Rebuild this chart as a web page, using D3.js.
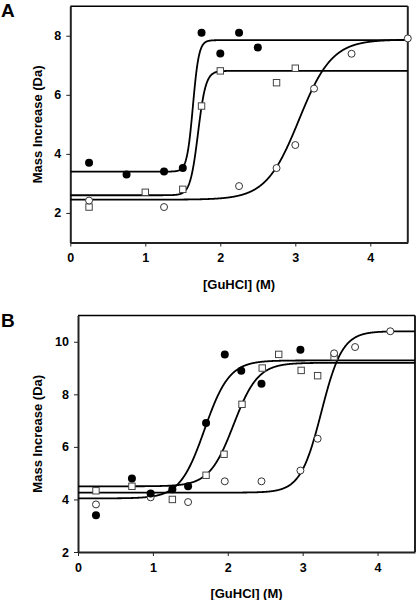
<!DOCTYPE html>
<html><head><meta charset="utf-8">
<script src="https://cdn.jsdelivr.net/npm/d3@7"></script>
<style>body{margin:0;background:#fff}svg{display:block}</style>
</head><body><svg id="c" width="416" height="600"></svg>
<script>
// ---- Panel A data ----
const aFilledX = [0.25, 0.75, 1.25, 1.5, 1.75, 2.0, 2.25, 2.5];
const aFilledY = [3.7, 3.3, 3.4, 3.52, 8.1, 7.4, 8.1, 7.6];
const aSquareX = [0.25, 1.0, 1.5, 1.75, 2.0, 2.75, 3.0];
const aSquareY = [2.2, 2.7, 2.8, 5.62, 6.81, 6.41, 6.9];
const aOpenX = [0.25, 1.25, 2.25, 2.75, 3.0, 3.25, 3.75, 4.5];
const aOpenY = [2.42, 2.2, 2.91, 3.52, 4.3, 6.21, 7.39, 7.91];
// fitted sigmoid parameters [bottom, top, midpoint, slope]
const aFilledFit = [3.4, 7.85, 1.635, 0.04];
const aSquareFit = [2.6, 6.81, 1.703, 0.052];
const aOpenFit = [2.45, 7.87, 3.05, 0.22];
const aYTicks = [2, 4, 6, 8];

// ---- Panel B data ----
const bFilledX = [0.24, 0.72, 0.97, 1.26, 1.47, 1.71, 1.96, 2.18, 2.45, 2.97];
const bFilledY = [3.4, 4.8, 4.23, 4.39, 4.5, 6.91, 9.52, 8.9, 8.4, 9.7];
const bSquareX = [0.24, 0.72, 1.26, 1.71, 1.95, 2.19, 2.46, 2.68, 2.98, 3.2, 3.42];
const bSquareY = [4.33, 4.5, 4.0, 4.92, 5.72, 7.62, 9.0, 9.52, 8.91, 8.71, 9.43];
const bOpenX = [0.24, 0.97, 1.47, 1.96, 2.45, 2.97, 3.2, 3.42, 3.7, 4.17];
const bOpenY = [3.81, 4.08, 3.9, 4.69, 4.69, 5.1, 6.31, 9.56, 9.8, 10.4];
const bFilledFit = [4.04, 9.29, 1.69, 0.165];
const bSquareFit = [4.5, 9.2, 2.078, 0.162];
const bOpenFit = [4.26, 10.4, 3.25, 0.14];
const bYTicks = [2, 4, 6, 8, 10];

const xTicks = [0, 1, 2, 3, 4];
const xLabel = "[GuHCl] (M)";
const yLabel = "Mass Increase (Da)";

const FONT = "Arial, 'Liberation Sans', sans-serif";
const svg = d3.select("#c");

function sigmoid(p, x) {
  return p[0] + (p[1] - p[0]) / (1 + Math.exp((p[2] - x) / p[3]));
}

function panel(cfg) {
  const x = d3.scaleLinear().domain([0, 4.5]).range([cfg.left, cfg.right]);
  const y = d3.scaleLinear().domain(cfg.yDomain).range([cfg.bottom, cfg.top]);
  const g = svg.append("g");
  const clipId = "clip" + cfg.name;
  svg.append("clipPath").attr("id", clipId).append("rect")
    .attr("x", cfg.left).attr("y", cfg.top)
    .attr("width", cfg.right - cfg.left).attr("height", cfg.bottom - cfg.top);

  // frame
  g.append("line").attr("x1", cfg.left).attr("x2", cfg.right).attr("y1", cfg.top).attr("y2", cfg.top)
    .attr("stroke", "#000").attr("stroke-width", 1.5);
  g.append("line").attr("x1", cfg.right).attr("x2", cfg.right).attr("y1", cfg.top).attr("y2", cfg.bottom)
    .attr("stroke", "#222").attr("stroke-width", 2);

  // axes
  const xa = g.append("g").attr("transform", `translate(0,${cfg.bottom})`)
    .call(d3.axisBottom(x).tickValues(xTicks).tickSize(4).tickPadding(7).tickFormat(d3.format("d")).tickSizeOuter(0));
  const ya = g.append("g").attr("transform", `translate(${cfg.left},0)`)
    .call(d3.axisLeft(y).tickValues(cfg.yTicks).tickSize(4).tickPadding(5).tickFormat(d3.format("d")).tickSizeOuter(0));
  [xa, ya].forEach(a => {
    a.select(".domain").attr("stroke", "#222").attr("stroke-width", 2);
    a.selectAll(".tick line").attr("stroke", "#222").attr("stroke-width", 1);
    a.selectAll("text").attr("font-family", FONT).attr("font-weight", "bold")
      .attr("font-size", 12.5).attr("fill", "#000");
  });

  // labels
  g.append("text").attr("x", (cfg.left + cfg.right) / 2).attr("y", cfg.xLabelY)
    .attr("text-anchor", "middle").attr("font-family", FONT).attr("font-weight", "bold")
    .attr("font-size", 13).text(xLabel);
  g.append("text").attr("transform", `translate(${cfg.yLabelX},${(cfg.top + cfg.bottom) / 2}) rotate(-90)`)
    .attr("text-anchor", "middle").attr("font-family", FONT).attr("font-weight", "bold")
    .attr("font-size", 13).text(yLabel);
  g.append("text").attr("x", cfg.letterX).attr("y", cfg.letterY)
    .attr("font-family", FONT).attr("font-weight", "bold").attr("font-size", 19).text(cfg.name);

  // curves
  const xs = d3.range(0, 4.5001, 0.005);
  const line = d3.line().x(d => x(d[0])).y(d => y(d[1]));
  const cg = g.append("g").attr("clip-path", `url(#${clipId})`);
  cfg.fits.forEach(p => {
    cg.append("path").datum(xs.map(v => [v, sigmoid(p, v)]))
      .attr("d", line).attr("fill", "none").attr("stroke", "#000").attr("stroke-width", 1.8);
  });

  // points
  const pg = g.append("g");
  pg.selectAll(".sq").data(cfg.sqX.map((v, i) => [v, cfg.sqY[i]])).join("rect")
    .attr("x", d => x(d[0]) - 3.2).attr("y", d => y(d[1]) - 3.2)
    .attr("width", 6.4).attr("height", 6.4)
    .attr("fill", "#fff").attr("stroke", "#444").attr("stroke-width", 1);
  pg.selectAll(".op").data(cfg.opX.map((v, i) => [v, cfg.opY[i]])).join("circle")
    .attr("cx", d => x(d[0])).attr("cy", d => y(d[1])).attr("r", 3.5)
    .attr("fill", "#fff").attr("stroke", "#333").attr("stroke-width", 1);
  pg.selectAll(".fc").data(cfg.fX.map((v, i) => [v, cfg.fY[i]])).join("circle")
    .attr("cx", d => x(d[0])).attr("cy", d => y(d[1])).attr("r", 4)
    .attr("fill", "#000");
}

panel({
  name: "A", left: 70.3, right: 407.8, top: 6.2, bottom: 242.5, yDomain: [1, 9], yTicks: aYTicks,
  xLabelY: 288.5, yLabelX: 42, letterX: 1, letterY: 17,
  fits: [aFilledFit, aSquareFit, aOpenFit],
  fX: aFilledX, fY: aFilledY, sqX: aSquareX, sqY: aSquareY, opX: aOpenX, opY: aOpenY
});
panel({
  name: "B", left: 78, right: 415, top: 315.5, bottom: 552, yDomain: [2, 11], yTicks: bYTicks,
  xLabelY: 597.5, yLabelX: 42, letterX: 1, letterY: 327,
  fits: [bFilledFit, bSquareFit, bOpenFit],
  fX: bFilledX, fY: bFilledY, sqX: bSquareX, sqY: bSquareY, opX: bOpenX, opY: bOpenY
});
</script></body></html>
